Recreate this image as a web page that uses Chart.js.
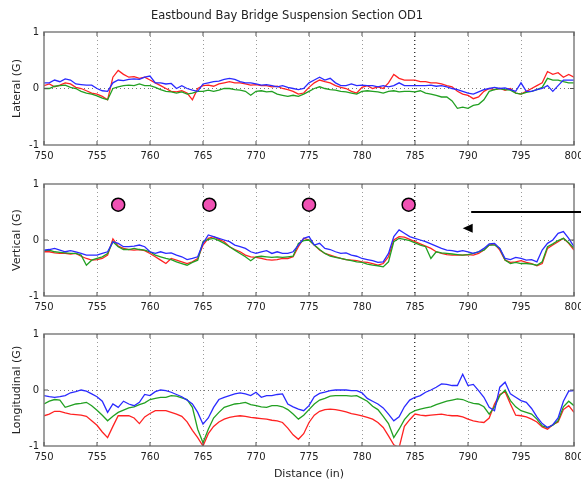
<!DOCTYPE html>
<html lang="en">
<head>
    <meta charset="UTF-8">
    <title>Eastbound Bay Bridge Suspension Section OD1</title>
    <script src="https://cdn.jsdelivr.net/npm/chart.js"></script>
    <style>
        html, body { margin: 0; padding: 0; background: #fff; width: 581px; height: 481px; overflow: hidden; }
        canvas.panel { position: absolute; left: 0; }
    </style>
</head>
<body>
    <canvas id="latChart" class="panel" width="600" height="160" style="top:0px"></canvas>
    <canvas id="vertChart" class="panel" width="600" height="160" style="top:160px"></canvas>
    <canvas id="longChart" class="panel" width="600" height="161" style="top:320px"></canvas>

    <script>
        // Distance along the span (m), sampled every 0.5
        const distance = [
            750, 750.5, 751, 751.5, 752, 752.5, 753, 753.5, 754, 754.5,
            755, 755.5, 756, 756.5, 757, 757.5, 758, 758.5, 759, 759.5,
            760, 760.5, 761, 761.5, 762, 762.5, 763, 763.5, 764, 764.5,
            765, 765.5, 766, 766.5, 767, 767.5, 768, 768.5, 769, 769.5,
            770, 770.5, 771, 771.5, 772, 772.5, 773, 773.5, 774, 774.5,
            775, 775.5, 776, 776.5, 777, 777.5, 778, 778.5, 779, 779.5,
            780, 780.5, 781, 781.5, 782, 782.5, 783, 783.5, 784, 784.5,
            785, 785.5, 786, 786.5, 787, 787.5, 788, 788.5, 789, 789.5,
            790, 790.5, 791, 791.5, 792, 792.5, 793, 793.5, 794, 794.5,
            795, 795.5, 796, 796.5, 797, 797.5, 798, 798.5, 799, 799.5,
            800
        ];

        // Lateral (G)
        const latRed = [
            0.05, 0.08, 0.03, 0.06, 0.10, 0.08, 0.02, 0.00, -0.04, -0.08,
            -0.10, -0.14, -0.20, 0.20, 0.32, 0.25, 0.20, 0.21, 0.18, 0.20,
            0.15, 0.10, 0.05, 0.00, -0.05, -0.06, -0.04, -0.08, -0.20, 0.00,
            0.05, 0.06, 0.04, 0.08, 0.10, 0.12, 0.10, 0.10, 0.08, 0.06,
            0.07, 0.05, 0.05, 0.03, 0.04, 0.00, -0.02, -0.05, -0.10, -0.08,
            0.02, 0.10, 0.15, 0.12, 0.10, 0.05, 0.02, 0.00, -0.05, -0.08,
            0.02, 0.05, 0.00, 0.03, 0.00, 0.10, 0.25, 0.18, 0.15, 0.15,
            0.15, 0.12, 0.12, 0.10, 0.10, 0.08, 0.05, 0.03, -0.05, -0.10,
            -0.12, -0.18, -0.15, -0.05, 0.00, -0.02, 0.00, -0.03, 0.00, -0.08,
            -0.10, -0.05, 0.00, 0.05, 0.10, 0.30, 0.25, 0.28, 0.20, 0.25,
            0.20
        ];
        const latGreen = [
            0.00, 0.00, 0.04, 0.05, 0.06, 0.02, 0.00, -0.05, -0.08, -0.10,
            -0.13, -0.17, -0.20, 0.00, 0.03, 0.05, 0.06, 0.05, 0.08, 0.05,
            0.05, 0.02, -0.02, -0.05, -0.06, -0.08, -0.06, -0.10, -0.08, -0.05,
            -0.05, -0.03, -0.05, -0.03, 0.00, 0.00, -0.02, -0.03, -0.05, -0.12,
            -0.05, -0.04, -0.06, -0.05, -0.10, -0.12, -0.14, -0.12, -0.14, -0.10,
            -0.05, 0.00, 0.03, 0.00, -0.02, -0.03, -0.05, -0.06, -0.08, -0.10,
            -0.05, -0.04, -0.05, -0.06, -0.08, -0.05, -0.04, -0.06, -0.05, -0.05,
            -0.06, -0.04, -0.08, -0.10, -0.12, -0.15, -0.15, -0.22, -0.35, -0.33,
            -0.35, -0.30, -0.28, -0.20, -0.05, -0.02, 0.00, -0.02, -0.03, -0.08,
            -0.10, -0.07, -0.05, -0.02, 0.02, 0.18, 0.15, 0.15, 0.12, 0.10,
            0.10
        ];
        const latBlue = [
            0.10, 0.10, 0.15, 0.12, 0.17, 0.15, 0.08, 0.07, 0.06, 0.06,
            0.00, -0.04, -0.05, 0.10, 0.15, 0.14, 0.16, 0.17, 0.16, 0.20,
            0.22, 0.10, 0.10, 0.08, 0.09, 0.00, 0.05, 0.00, -0.03, -0.05,
            0.08, 0.10, 0.12, 0.13, 0.16, 0.18, 0.16, 0.12, 0.10, 0.10,
            0.08, 0.06, 0.07, 0.05, 0.03, 0.05, 0.02, 0.00, -0.02, 0.00,
            0.10, 0.15, 0.20, 0.15, 0.18, 0.10, 0.05, 0.05, 0.08, 0.05,
            0.06, 0.05, 0.05, 0.03, 0.05, 0.03, 0.05, 0.10, 0.05, 0.05,
            0.05, 0.05, 0.05, 0.06, 0.04, 0.05, 0.03, 0.00, -0.02, -0.05,
            -0.08, -0.10, -0.06, -0.02, 0.00, 0.02, 0.00, 0.01, -0.02, -0.05,
            0.10, -0.05, -0.05, -0.02, 0.00, 0.05, -0.05, 0.05, 0.15, 0.15,
            0.15
        ];

        // Vertical (G)
        const vertRed = [
            -0.21, -0.21, -0.23, -0.24, -0.24, -0.25, -0.24, -0.29, -0.33, -0.36,
            -0.35, -0.33, -0.27, 0.02, -0.11, -0.15, -0.17, -0.18, -0.17, -0.19,
            -0.24, -0.30, -0.36, -0.42, -0.33, -0.36, -0.39, -0.42, -0.39, -0.33,
            -0.09, 0.03, 0.06, 0.01, -0.03, -0.12, -0.17, -0.21, -0.27, -0.30,
            -0.31, -0.33, -0.35, -0.36, -0.35, -0.33, -0.33, -0.30, -0.12, 0.03,
            0.00, -0.09, -0.18, -0.24, -0.27, -0.30, -0.33, -0.35, -0.36, -0.37,
            -0.39, -0.40, -0.42, -0.45, -0.42, -0.30, 0.00, 0.06, 0.05, 0.01,
            -0.03, -0.07, -0.11, -0.15, -0.21, -0.24, -0.26, -0.27, -0.27, -0.27,
            -0.26, -0.27, -0.24, -0.18, -0.09, -0.07, -0.18, -0.36, -0.40, -0.39,
            -0.37, -0.40, -0.42, -0.46, -0.42, -0.15, -0.09, -0.03, 0.03, -0.06,
            -0.18
        ];
        const vertGreen = [
            -0.19, -0.18, -0.21, -0.22, -0.23, -0.24, -0.24, -0.27, -0.45, -0.36,
            -0.33, -0.30, -0.24, -0.03, -0.12, -0.17, -0.17, -0.15, -0.17, -0.18,
            -0.21, -0.27, -0.30, -0.33, -0.35, -0.39, -0.42, -0.45, -0.40, -0.36,
            -0.03, 0.01, 0.03, -0.01, -0.06, -0.12, -0.18, -0.24, -0.30, -0.37,
            -0.30, -0.29, -0.30, -0.31, -0.30, -0.31, -0.30, -0.29, -0.06, -0.01,
            0.00, -0.09, -0.17, -0.24, -0.29, -0.31, -0.33, -0.35, -0.37, -0.39,
            -0.40, -0.43, -0.45, -0.46, -0.48, -0.39, -0.03, 0.03, 0.01, -0.01,
            -0.05, -0.09, -0.12, -0.33, -0.21, -0.23, -0.24, -0.25, -0.26, -0.27,
            -0.26, -0.24, -0.21, -0.18, -0.09, -0.09, -0.15, -0.36, -0.42, -0.40,
            -0.42, -0.42, -0.43, -0.45, -0.39, -0.12, -0.07, -0.01, 0.03, -0.05,
            -0.15
        ];
        const vertBlue = [
            -0.18, -0.17, -0.15, -0.18, -0.21, -0.19, -0.21, -0.24, -0.27, -0.27,
            -0.27, -0.24, -0.21, -0.03, -0.06, -0.12, -0.12, -0.11, -0.09, -0.12,
            -0.21, -0.24, -0.21, -0.24, -0.23, -0.27, -0.30, -0.35, -0.33, -0.30,
            -0.06, 0.09, 0.06, 0.03, 0.00, -0.03, -0.09, -0.12, -0.15, -0.21,
            -0.24, -0.21, -0.19, -0.24, -0.21, -0.24, -0.24, -0.21, -0.09, 0.03,
            0.06, -0.09, -0.06, -0.15, -0.17, -0.21, -0.24, -0.23, -0.27, -0.29,
            -0.33, -0.35, -0.37, -0.40, -0.39, -0.24, 0.06, 0.18, 0.12, 0.06,
            0.03, 0.00, -0.03, -0.07, -0.11, -0.15, -0.18, -0.19, -0.21, -0.19,
            -0.21, -0.24, -0.21, -0.15, -0.07, -0.06, -0.15, -0.33, -0.35, -0.31,
            -0.33, -0.36, -0.35, -0.39, -0.18, -0.06, 0.00, 0.12, 0.15, 0.03,
            -0.12
        ];

        // Longitudinal (G)
        const longRed = [
            -0.46, -0.43, -0.38, -0.38, -0.41, -0.43, -0.44, -0.45, -0.47, -0.55,
            -0.63, -0.75, -0.85, -0.65, -0.46, -0.46, -0.46, -0.50, -0.60, -0.48,
            -0.42, -0.37, -0.37, -0.37, -0.40, -0.43, -0.47, -0.57, -0.72, -0.85,
            -1.00, -0.78, -0.65, -0.57, -0.52, -0.49, -0.47, -0.46, -0.47, -0.49,
            -0.50, -0.51, -0.52, -0.54, -0.55, -0.58, -0.68, -0.80, -0.88, -0.78,
            -0.58, -0.45, -0.38, -0.35, -0.34, -0.35, -0.37, -0.39, -0.42, -0.44,
            -0.46, -0.49, -0.52, -0.58, -0.67, -0.82, -0.98, -1.03, -0.65, -0.53,
            -0.43, -0.45, -0.46, -0.45, -0.44, -0.43, -0.45, -0.46, -0.46, -0.48,
            -0.52, -0.55, -0.57, -0.58, -0.50, -0.25, -0.08, -0.03, -0.25, -0.45,
            -0.46, -0.48, -0.52, -0.57, -0.66, -0.70, -0.62, -0.57, -0.35, -0.28,
            -0.40
        ];
        const longGreen = [
            -0.25, -0.20, -0.17, -0.18, -0.31, -0.28, -0.25, -0.24, -0.22, -0.28,
            -0.36, -0.45, -0.55, -0.47, -0.40, -0.36, -0.32, -0.30, -0.26, -0.23,
            -0.17, -0.15, -0.13, -0.13, -0.10, -0.11, -0.14, -0.17, -0.31, -0.70,
            -0.94, -0.70, -0.50, -0.40, -0.31, -0.28, -0.25, -0.24, -0.22, -0.26,
            -0.28, -0.30, -0.31, -0.28, -0.28, -0.30, -0.35, -0.43, -0.52, -0.45,
            -0.35, -0.25, -0.18, -0.15, -0.11, -0.10, -0.10, -0.10, -0.11, -0.10,
            -0.15, -0.20, -0.29, -0.35, -0.47, -0.60, -0.85, -0.70, -0.53, -0.42,
            -0.37, -0.34, -0.32, -0.30, -0.26, -0.23, -0.20, -0.18, -0.16, -0.17,
            -0.21, -0.24, -0.25, -0.30, -0.43, -0.30, -0.10, 0.00, -0.19, -0.30,
            -0.37, -0.40, -0.43, -0.52, -0.64, -0.67, -0.63, -0.55, -0.30, -0.20,
            -0.28
        ];
        const longBlue = [
            -0.10, -0.12, -0.13, -0.12, -0.10, -0.05, -0.03, 0.00, -0.02, -0.07,
            -0.12, -0.20, -0.40, -0.25, -0.31, -0.20, -0.25, -0.28, -0.22, -0.08,
            -0.10, -0.03, 0.00, -0.01, -0.04, -0.08, -0.12, -0.18, -0.25, -0.40,
            -0.61, -0.50, -0.31, -0.17, -0.13, -0.10, -0.07, -0.05, -0.07, -0.10,
            -0.04, -0.13, -0.10, -0.10, -0.08, -0.07, -0.25, -0.30, -0.34, -0.37,
            -0.28, -0.12, -0.06, -0.04, -0.01, 0.00, 0.00, 0.00, -0.01, -0.01,
            -0.05, -0.15, -0.20, -0.25, -0.32, -0.43, -0.55, -0.48, -0.30, -0.18,
            -0.13, -0.10, -0.04, 0.00, 0.05, 0.11, 0.10, 0.08, 0.08, 0.28,
            0.08, 0.10, -0.01, -0.13, -0.31, -0.37, 0.05, 0.14, -0.07, -0.13,
            -0.19, -0.22, -0.33, -0.48, -0.60, -0.67, -0.62, -0.50, -0.20, -0.02,
            -0.01
        ];

        // Pink markers on the vertical panel
        const markerDist = [757.0, 765.6, 775.0, 784.4];
        const markerLevel = [0.63, 0.63, 0.63, 0.63];

        const xTicks = [750, 755, 760, 765, 770, 775, 780, 785, 790, 795, 800];

        Chart.defaults.font.family = '"DejaVu Sans", sans-serif';
        Chart.defaults.color = '#222';
        Chart.defaults.animation = false;

        const RED = '#ff2222';
        const GREEN = '#22a022';
        const BLUE = '#2a2aff';
        const BOX = '#808080';

        function toPoints(xs, ys) {
            return xs.map((x, i) => ({ x: x, y: ys[i] }));
        }

        // axes box with small inward tick marks, drawn over the traces
        const boxPlugin = {
            id: 'matlabBox',
            afterDatasetsDraw(chart) {
                const { ctx, chartArea: a, scales } = chart;
                ctx.save();
                ctx.strokeStyle = BOX;
                ctx.lineWidth = 1.5;
                ctx.strokeRect(a.left, a.top, a.right - a.left, a.bottom - a.top);
                ctx.lineWidth = 1;
                ctx.strokeStyle = '#555';
                xTicks.forEach(v => {
                    const px = scales.x.getPixelForValue(v);
                    ctx.beginPath();
                    ctx.moveTo(px, a.bottom); ctx.lineTo(px, a.bottom - 4);
                    ctx.moveTo(px, a.top); ctx.lineTo(px, a.top + 4);
                    ctx.stroke();
                });
                const py = scales.y.getPixelForValue(0);
                ctx.beginPath();
                ctx.moveTo(a.left, py); ctx.lineTo(a.left + 4, py);
                ctx.moveTo(a.right, py); ctx.lineTo(a.right - 4, py);
                ctx.stroke();
                ctx.restore();
            }
        };

        // arrow annotation on the vertical panel
        const arrowPlugin = {
            id: 'arrowNote',
            afterDraw(chart) {
                if (chart.canvas.id !== 'vertChart') return;
                const { ctx, scales } = chart;
                const x0 = scales.x.getPixelForValue(790.3);
                const yLine = scales.y.getPixelForValue(0.5);
                ctx.save();
                ctx.strokeStyle = '#000';
                ctx.lineWidth = 2;
                ctx.beginPath();
                ctx.moveTo(x0, yLine);
                ctx.lineTo(chart.width, yLine);
                ctx.stroke();
                const tx = scales.x.getPixelForValue(789.5);
                const ty = scales.y.getPixelForValue(0.21);
                ctx.fillStyle = '#000';
                ctx.beginPath();
                ctx.moveTo(tx, ty);
                ctx.lineTo(tx + 10, ty - 4.5);
                ctx.lineTo(tx + 10, ty + 4.5);
                ctx.closePath();
                ctx.fill();
                ctx.restore();
            }
        };

        function createPanel(canvasId, yTitle, red, green, blue, cfg) {
            const ctx = document.getElementById(canvasId).getContext('2d');
            const datasets = [
                { label: 'blue', data: toPoints(distance, blue), borderColor: BLUE },
                { label: 'green', data: toPoints(distance, green), borderColor: GREEN },
                { label: 'red', data: toPoints(distance, red), borderColor: RED }
            ].map(d => Object.assign(d, { borderWidth: 1.3, pointRadius: 0, tension: 0, fill: false }));

            if (cfg.markers) {
                datasets.push({
                    label: 'markers',
                    data: toPoints(markerDist, markerLevel),
                    showLine: false,
                    pointRadius: 6.5,
                    pointBackgroundColor: '#f052b4',
                    pointBorderColor: '#000',
                    pointBorderWidth: 1.5,
                    order: -1
                });
            }

            return new Chart(ctx, {
                type: 'line',
                data: { datasets: datasets },
                options: {
                    responsive: false,
                    devicePixelRatio: 1,
                    layout: { padding: { left: 0, right: 26, top: cfg.padTop, bottom: 0 } },
                    plugins: {
                        legend: { display: false },
                        tooltip: { enabled: false },
                        title: cfg.title ? {
                            display: true,
                            text: cfg.title,
                            color: '#222',
                            font: { size: 11.5, weight: 'normal' },
                            padding: { top: 9, bottom: 9.2 }
                        } : { display: false }
                    },
                    scales: {
                        x: {
                            type: 'linear',
                            min: 750,
                            max: 800,
                            afterFit: s => { s.height = cfg.xHeight; },
                            afterBuildTicks: s => { s.ticks = xTicks.map(v => ({ value: v })); },
                            ticks: { padding: 5, font: { size: 10 }, color: '#222', maxRotation: 0 },
                            grid: {
                                drawTicks: false,
                                color: c => {
                                    const v = c.tick ? c.tick.value : null;
                                    if (v === 750 || v === 800) return 'transparent';
                                    return v === 785 ? '#333' : '#9a9a9a';
                                },
                                lineWidth: c => (c.tick && c.tick.value === 785) ? 1.4 : 1
                            },
                            border: { display: false, dash: [1, 3] },
                            title: cfg.xTitle ? {
                                display: true,
                                text: cfg.xTitle,
                                font: { size: 11 },
                                color: '#222',
                                padding: { top: 0, bottom: 0 }
                            } : { display: false }
                        },
                        y: {
                            min: -1,
                            max: 1,
                            afterFit: s => { s.width = 44; },
                            ticks: { stepSize: 1, padding: 5, font: { size: 10 }, color: '#222' },
                            grid: {
                                drawTicks: false,
                                color: c => (c.tick && c.tick.value === 0) ? '#777' : 'transparent'
                            },
                            border: { display: false, dash: [1, 3] },
                            title: {
                                display: true,
                                text: yTitle,
                                font: { size: 11 },
                                color: '#222',
                                padding: { top: 11, bottom: 0 }
                            }
                        }
                    }
                },
                plugins: [boxPlugin, arrowPlugin]
            });
        }

        createPanel('latChart', 'Lateral (G)', latRed, latGreen, latBlue,
            { padTop: 0, xHeight: 15, title: 'Eastbound Bay Bridge Suspension Section OD1' });
        createPanel('vertChart', 'Vertical (G)', vertRed, vertGreen, vertBlue,
            { padTop: 24, xHeight: 24, markers: true });
        createPanel('longChart', 'Longitudinal (G)', longRed, longGreen, longBlue,
            { padTop: 14, xHeight: 35, xTitle: 'Distance (in)' });
    </script>
</body>
</html>
